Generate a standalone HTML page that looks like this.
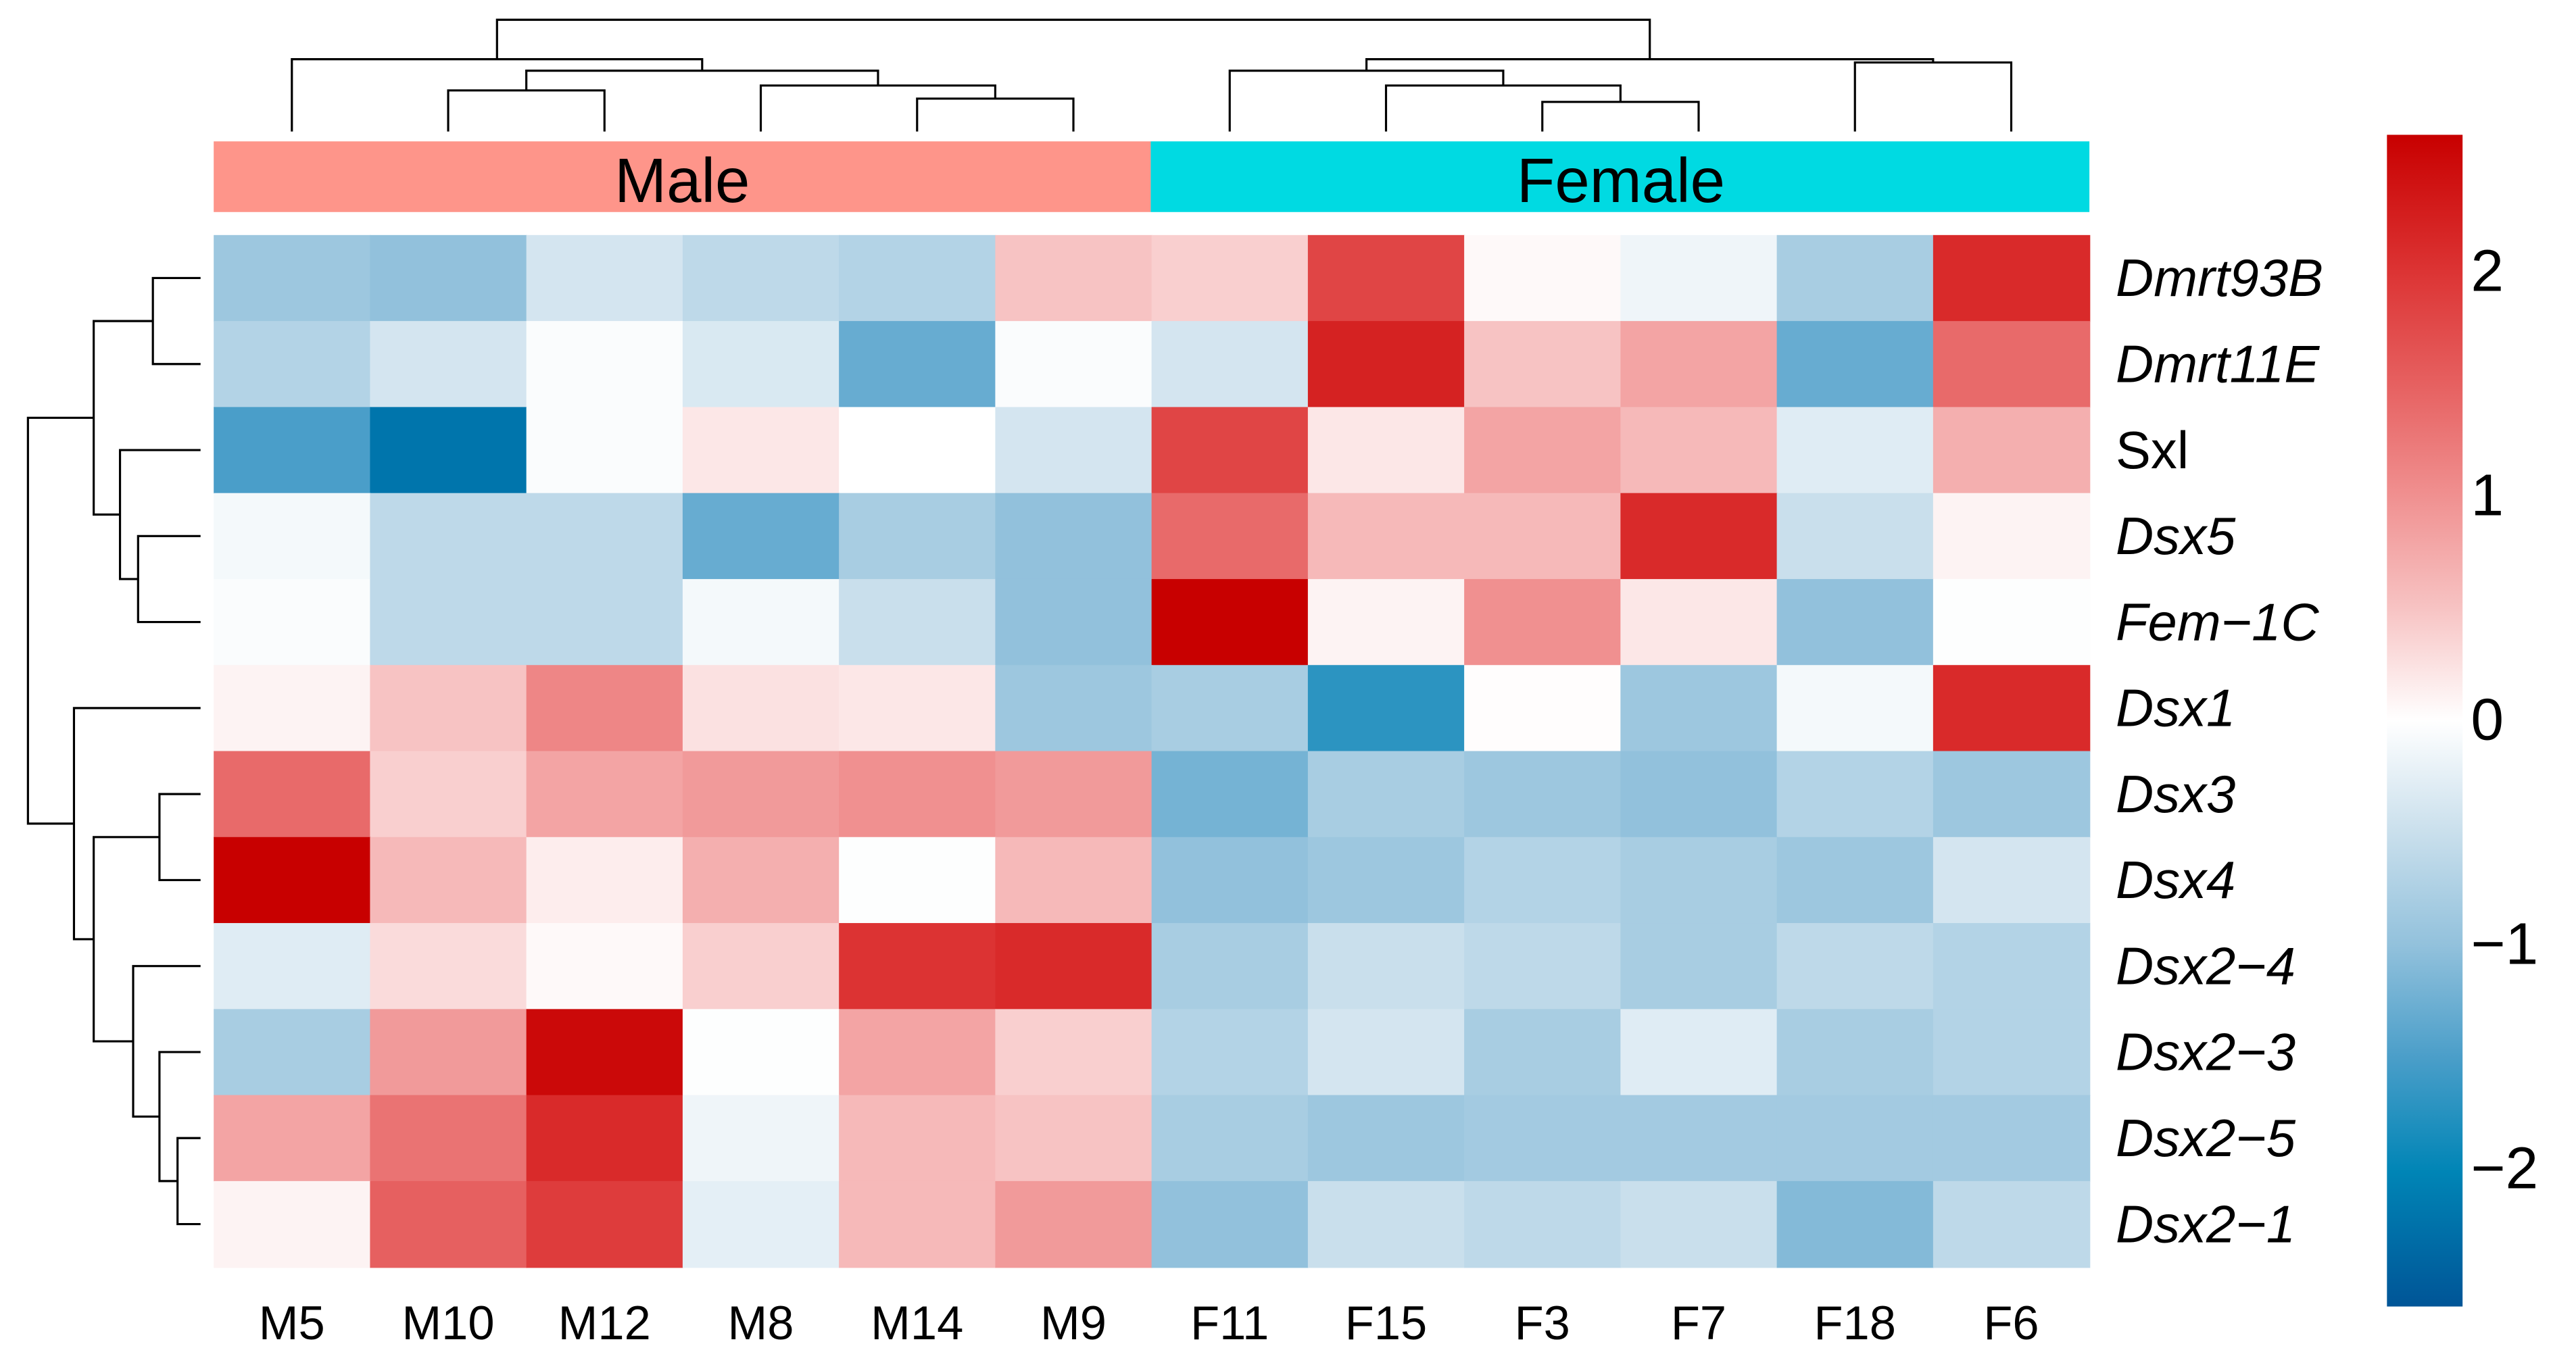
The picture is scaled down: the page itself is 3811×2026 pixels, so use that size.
<!DOCTYPE html>
<html><head><meta charset="utf-8"><style>html,body{margin:0;padding:0;background:#fff}svg{display:block}</style></head>
<body>
<svg id="chart" width="3811" height="2026" viewBox="0 0 1567 833" xmlns="http://www.w3.org/2000/svg" font-family="Liberation Sans, sans-serif">
<defs>
<linearGradient id="cbg" x1="0" y1="1" x2="0" y2="0">
<stop offset="0" stop-color="#005597"/><stop offset="0.115" stop-color="#0085b6"/><stop offset="0.212" stop-color="#4a9ec9"/><stop offset="0.308" stop-color="#92c1dc"/><stop offset="0.404" stop-color="#c9dfec"/><stop offset="0.5" stop-color="#ffffff"/><stop offset="0.596" stop-color="#f7c3c3"/><stop offset="0.692" stop-color="#f09090"/><stop offset="0.788" stop-color="#e66060"/><stop offset="0.885" stop-color="#dc3333"/><stop offset="1" stop-color="#c80000"/>
</linearGradient>
</defs>
<g id="cells"></g>
<g id="dendro" stroke="#000" stroke-width="1.3" fill="none"></g>
<g id="labels"></g>
<rect x="130" y="86" width="570" height="43" fill="#fe958a"/>
<rect x="700" y="86" width="571" height="43" fill="#00dae2"/>
<text x="415" y="123" font-size="38" text-anchor="middle">Male</text>
<text x="986" y="123" font-size="38" text-anchor="middle">Female</text>
<rect x="1452" y="82" width="46" height="713" fill="url(#cbg)"/>
<g id="cbticks"></g>
</svg>
<script>
const cols = ["M5","M10","M12","M8","M14","M9","F11","F15","F3","F7","F18","F6"];
const rows = ["Dmrt93B","Dmrt11E","Sxl","Dsx5","Fem\u22121C","Dsx1","Dsx3","Dsx4","Dsx2\u22124","Dsx2\u22123","Dsx2\u22125","Dsx2\u22121"];
const italicRows = [true,true,false,true,true,true,true,true,true,true,true,true];
const v0 = [-0.9,-1.0,-0.4,-0.6,-0.7,0.5,0.4,1.8,0.05,-0.15,-0.8,2.1];
const v1 = [-0.7,-0.4,-0.05,-0.35,-1.3,-0.05,-0.4,2.2,0.5,0.8,-1.3,1.4];
const v2 = [-1.5,-2.2,-0.05,0.2,0,-0.4,1.8,0.2,0.8,0.6,-0.3,0.7];
const v3 = [-0.1,-0.6,-0.6,-1.3,-0.8,-1.0,1.4,0.6,0.6,2.1,-0.5,0.1];
const v4 = [-0.05,-0.6,-0.6,-0.1,-0.5,-1.0,2.6,0.1,1.0,0.2,-1.0,-0.02];
const v5 = [0.1,0.5,1.1,0.25,0.2,-0.9,-0.8,-1.7,0.02,-0.9,-0.1,2.1];
const v6 = [1.4,0.4,0.8,0.9,1.0,0.9,-1.2,-0.8,-0.9,-1.0,-0.7,-0.9];
const v7 = [2.6,0.6,0.15,0.7,-0.02,0.6,-1.0,-0.9,-0.7,-0.8,-0.9,-0.4];
const v8 = [-0.3,0.3,0.05,0.4,2.0,2.1,-0.8,-0.5,-0.6,-0.8,-0.6,-0.7];
const v9 = [-0.8,0.9,2.5,-0.02,0.8,0.4,-0.7,-0.4,-0.8,-0.3,-0.8,-0.7];
const v10 = [0.8,1.3,2.1,-0.15,0.6,0.5,-0.8,-0.9,-0.85,-0.85,-0.85,-0.85];
const v11 = [0.1,1.5,1.9,-0.25,0.6,0.9,-1.0,-0.5,-0.6,-0.5,-1.1,-0.6];
const values = [v0,v1,v2,v3,v4,v5,v6,v7,v8,v9,v10,v11];
const cbTicks = [2,1,0,-1,-2];

const NS="http://www.w3.org/2000/svg";
const X0=130,X1=1271,Y0=143,Y1=771;
const cw=(X1-X0)/cols.length, rh=(Y1-Y0)/rows.length;
const xc=i=>X0+cw*(i+0.5), yc=j=>Y0+rh*(j+0.5);
const stops=[[-2.6,[0,85,151]],[-2,[0,133,182]],[-1.5,[74,158,201]],[-1,[146,193,220]],[-0.5,[201,223,236]],[0,[255,255,255]],[0.5,[247,195,195]],[1,[240,144,144]],[1.5,[230,96,96]],[2,[220,51,51]],[2.6,[200,0,0]]];
function colorOf(v){v=Math.max(-2.6,Math.min(2.6,v));for(let k=0;k<stops.length-1;k++){const a=stops[k],b=stops[k+1];if(v<=b[0]){const t=(v-a[0])/(b[0]-a[0]);const c=a[1].map((x,i)=>Math.round(x+(b[1][i]-x)*t));return "rgb("+c.join(",")+")";}}return "rgb(200,0,0)";}
const cbY=v=>437-v*136.5;
const cells=document.getElementById('cells');
values.forEach((row,j)=>row.forEach((v,i)=>{
  const r=document.createElementNS(NS,'rect');
  r.setAttribute('x',X0+cw*i);r.setAttribute('y',Y0+rh*j);
  r.setAttribute('width',cw+0.5);r.setAttribute('height',rh+0.5);
  r.setAttribute('fill',colorOf(v));
  
  
  cells.appendChild(r);
}));
const lab=document.getElementById('labels');
function txt(x,y,s,size,anchor,italic){const t=document.createElementNS(NS,'text');t.setAttribute('x',x);t.setAttribute('y',y);t.setAttribute('font-size',size);t.setAttribute('text-anchor',anchor);if(italic)t.setAttribute('font-style','italic');t.textContent=s;return t;}
cols.forEach((c,i)=>{const t=txt(xc(i),815,c,29,'middle',false);
  
  
  lab.appendChild(t);});
rows.forEach((r,j)=>{const t=txt(1287,yc(j)+11,r,32,'start',italicRows[j]);
  
  
  lab.appendChild(t);});
const cbt=document.getElementById('cbticks');
cbTicks.forEach(v=>{const t=txt(1503,cbY(v)+13,v<0?'\u2212'+(-v):String(v),36,'start',false);
  
  
  cbt.appendChild(t);});
const dg=document.getElementById('dendro');
function seg(pts){const p=document.createElementNS(NS,'polyline');p.setAttribute('points',pts.map(q=>q.join(',')).join(' '));
  
  
  dg.appendChild(p);}
function cjoin(a,b,h){seg([[a.x,a.h],[a.x,h],[b.x,h],[b.x,b.h]]);return {x:(a.x+b.x)/2,h:h};}
const cl=i=>({x:xc(i),h:80});
const m1012=cjoin(cl(1),cl(2),55), m149=cjoin(cl(4),cl(5),60), m8n=cjoin(cl(3),m149,52);
const mr=cjoin(m1012,m8n,43), ml=cjoin(cl(0),mr,36);
const f37=cjoin(cl(8),cl(9),62), f15n=cjoin(cl(7),f37,52), f11n=cjoin(cl(6),f15n,43);
const f186=cjoin(cl(10),cl(11),38), fr=cjoin(f11n,f186,36);
cjoin(ml,fr,12);
function rjoin(a,b,x){seg([[a.w,a.y],[x,a.y],[x,b.y],[b.w,b.y]]);return {y:(a.y+b.y)/2,w:x};}
const rl=j=>({y:yc(j),w:122});
const d12=rjoin(rl(0),rl(1),93), d45=rjoin(rl(3),rl(4),84), d3=rjoin(rl(2),d45,73), dTop=rjoin(d12,d3,57);
const d34=rjoin(rl(6),rl(7),97), d1112=rjoin(rl(10),rl(11),108), d10=rjoin(rl(9),d1112,97), d9=rjoin(rl(8),d10,81);
const dLow=rjoin(d34,d9,57), d6=rjoin(rl(5),dLow,45);
rjoin(dTop,d6,17);
</script>
</body></html>
